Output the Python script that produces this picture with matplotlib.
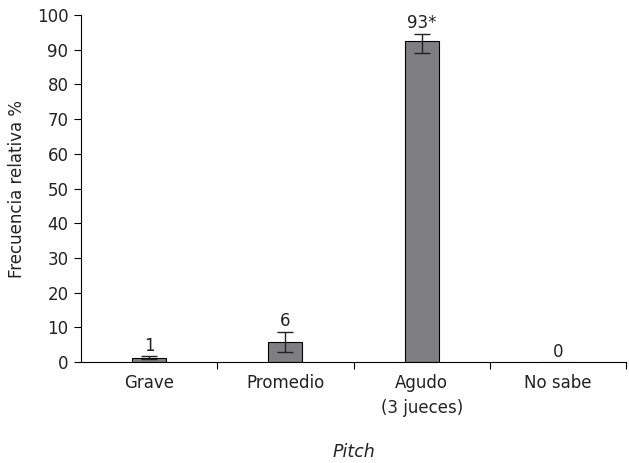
import numpy as np
import matplotlib.pyplot as plt

plt.rcParams['font.family'] = ['DejaVu Sans']

categories = ['Grave', 'Promedio', 'Agudo\n(3 jueces)', 'No sabe']
values = [1.2, 5.7, 92.6, 0]
err_low = [0.4, 2.8, 3.6, 0]
err_high = [0.4, 3.0, 2.0, 0]
labels = ['1', '6', '93*', '0']

fig = plt.figure(figsize=(6.29, 4.63), dpi=100)
ax = fig.add_axes([81/629, 1-362/463, (626-81)/629, (362-15)/463])

x = np.arange(len(categories))
ax.bar(x, values, width=0.25, color='#7f7f82', edgecolor='black', linewidth=0.8)
ax.errorbar(x[:3], values[:3], yerr=[err_low[:3], err_high[:3]], fmt='none',
            ecolor='#222222', elinewidth=1, capsize=6, capthick=1)

for xi, v, eh, lab in zip(x, values, err_high, labels):
    ax.text(xi, v + eh + 0.4, lab, ha='center', va='bottom', fontsize=12, color='#222222')

ax.set_xlim(-0.5, 3.5)
ax.set_ylim(0, 100)
ax.set_yticks(range(0, 101, 10))
ax.set_xticks(np.arange(0.5, 4, 1))
ax.set_xticklabels([])
ax.set_xticks(x, minor=True)
ax.set_xticklabels(categories, minor=True, fontsize=12, color='#222222', linespacing=1.45)
ax.tick_params(axis='x', which='minor', length=0, pad=9)
ax.tick_params(axis='x', which='major', length=5, direction='out', width=0.8)
ax.tick_params(axis='y', length=5, width=0.8, labelsize=12, labelcolor='#222222', pad=4)

for s in ['top', 'right']:
    ax.spines[s].set_visible(False)
for s in ['left', 'bottom']:
    ax.spines[s].set_linewidth(0.8)

ax.set_ylabel('Frecuencia relativa %', fontsize=12, color='#222222', labelpad=8)
fig.text((81+626)/2/629, 1-452/463, 'Pitch', ha='center', va='center',
         fontsize=12.5, style='italic', color='#222222')

fig.savefig('out.png', dpi=100)
